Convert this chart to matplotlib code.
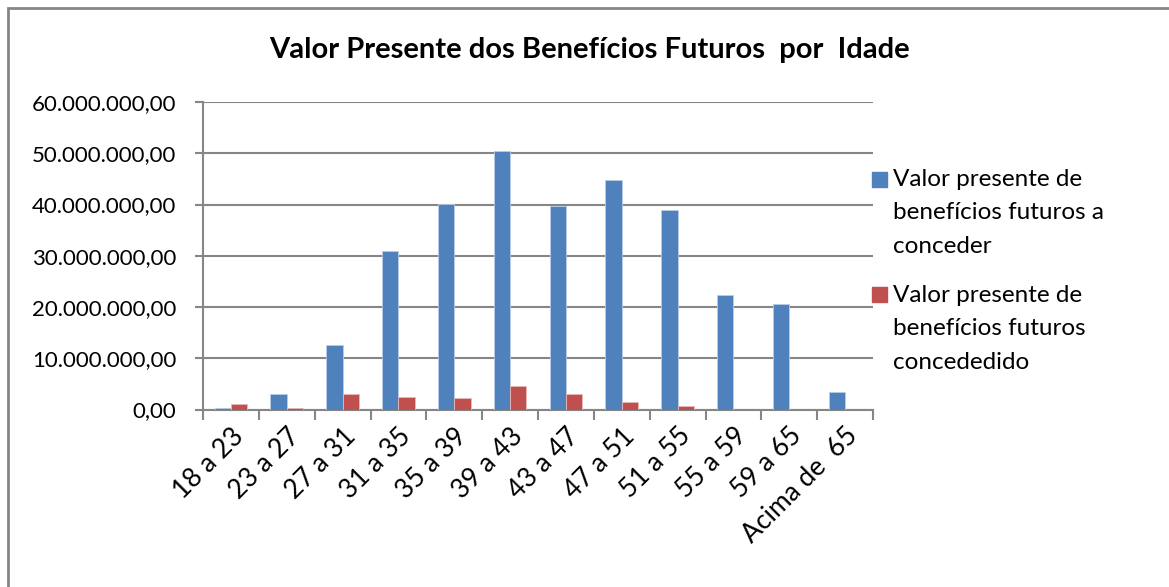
import matplotlib.pyplot as plt
from matplotlib.patches import Rectangle
from matplotlib.ticker import FuncFormatter
import numpy as np

plt.rcParams['font.family'] = ['Lato', 'DejaVu Sans']

faixas = ['18 a 23', '23 a 27', '27 a 31', '31 a 35', '35 a 39', '39 a 43',
          '43 a 47', '47 a 51', '51 a 55', '55 a 59', '59 a 65', 'Acima de  65']
a_conceder = [390000, 3120000, 12550000, 30950000, 40050000, 50400000,
              39660000, 44800000, 38950000, 22400000, 20500000, 3500000]
concedido = [1040000, 260000, 2990000, 2400000, 2280000, 4620000,
             2990000, 1500000, 720000, 0, 0, 0]

nome_a_conceder = 'Valor presente de\nbenefícios futuros a\nconceder'
nome_concedido = 'Valor presente de\nbenefícios futuros\nconcededido'

azul = '#4F81BD'
vermelho = '#C0504D'
cinza = '#868686'

W, H = 1169, 587
fig = plt.figure(figsize=(W/100, H/100), dpi=100)
ax = fig.add_axes([203/W, 1 - 409.5/H, 670/W, 307.5/H])

x = np.arange(len(faixas))
larg = 0.293
ax.bar(x - larg/2, a_conceder, larg, color=azul, edgecolor='#B9CDE5', linewidth=0.6, zorder=3)
ax.bar(x + larg/2, concedido, larg, color=vermelho, edgecolor='#E6B9B8', linewidth=0.6, zorder=3)

ax.set_xlim(-0.5, len(faixas) - 0.5)
ax.set_ylim(0, 60000000)
ax.set_yticks(np.arange(0, 60000001, 10000000))

def fmt(v, pos):
    s = '{:,.2f}'.format(v)
    return s.replace(',', 'X').replace('.', ',').replace('X', '.')
ax.yaxis.set_major_formatter(FuncFormatter(fmt))

ax.grid(axis='y', color=cinza, linewidth=1.5, zorder=0)
for lado in ['top', 'right']:
    ax.spines[lado].set_visible(False)
for lado in ['left', 'bottom']:
    ax.spines[lado].set_color(cinza)
    ax.spines[lado].set_linewidth(1.5)

# ticks between the categories on x
ax.set_xticks(np.arange(len(faixas) + 1) - 0.5)
ax.set_xticklabels([])
ax.set_xticks(x, minor=True)
ax.set_xticklabels(faixas, minor=True, rotation=45, ha='right', va='top',
                   rotation_mode='anchor', fontsize=19)
ax.tick_params(axis='x', which='major', length=7, width=1.5, color=cinza, direction='out')
ax.tick_params(axis='x', which='minor', length=0, pad=10)
ax.tick_params(axis='y', length=6, width=1.5, color=cinza, labelsize=16, pad=13)

fig.text(589/W, 1 - 50/H, 'Valor Presente dos Benefícios Futuros  por  Idade',
         ha='center', va='center', fontsize=21, fontweight='bold')

# legend
fig.patches.append(Rectangle((872/W, 1 - 187/H), 15/W, 15/H, transform=fig.transFigure,
                             color=azul, figure=fig))
fig.text(893/W, 1 - 169/H, nome_a_conceder, ha='left', va='top', fontsize=17.5, linespacing=1.73)
fig.patches.append(Rectangle((872/W, 1 - 302/H), 15/W, 15/H, transform=fig.transFigure,
                             color=vermelho, figure=fig))
fig.text(893/W, 1 - 285/H, nome_concedido, ha='left', va='top', fontsize=17.5, linespacing=1.73)

# chart border
fig.patches.append(Rectangle((8/W, -0.1), 1.2, 1 - 8/H + 0.1, transform=fig.transFigure,
                             fill=False, edgecolor=cinza, linewidth=2, figure=fig))

fig.savefig('out.png', dpi=100)
